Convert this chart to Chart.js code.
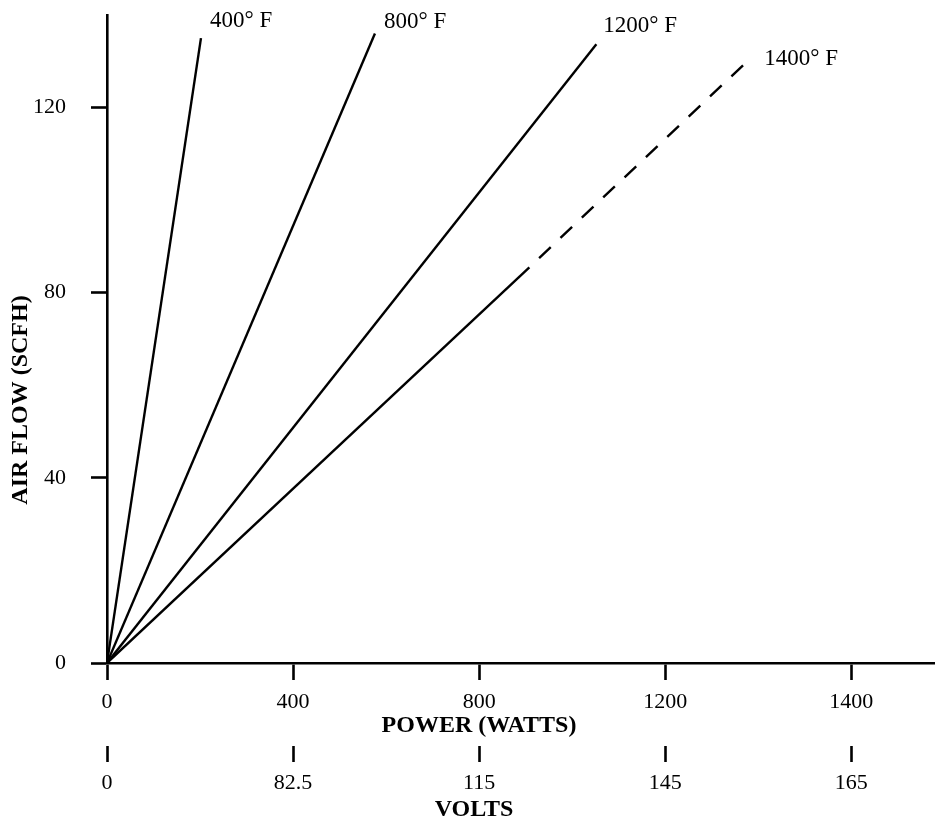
<!DOCTYPE html>
<html>
<head>
<meta charset="utf-8">
<script src="https://cdn.jsdelivr.net/npm/chart.js@4.4.1/dist/chart.umd.min.js"></script>
<style>
    body { margin: 0; background: #fff; }
    #wrap { width: 935px; height: 821px; }
</style>
</head>
<body>
<div id="wrap"><canvas id="flowChart" width="935" height="821"></canvas></div>
<script>
// Curves as [power, air flow] points
const series400 = [[0, 0], [202, 135]];
const series800 = [[0, 0], [576, 136]];
const series1200 = [[0, 0], [1052, 133.7]];
const series1400 = [[0, 0], [908, 85.5], [1368, 129.2]]; // last leg is dashed
const seriesNames = ['400° F', '800° F', '1200° F', '1400° F'];

// Tick labels (bottom scale is evenly spaced, last label reads 1400)
const yTicks = [0, 40, 80, 120];
const powerTickPos = [0, 400, 800, 1200, 1600];
const powerLabels = ['0', '400', '800', '1200', '1400'];
const voltLabels = ['0', '82.5', '115', '145', '165'];

const FONT = "'Liberation Serif', 'Times New Roman', serif";
Chart.defaults.color = '#000';
Chart.defaults.font.family = FONT;
Chart.defaults.font.size = 22;

const toPoints = arr => arr.map(p => ({ x: p[0], y: p[1] }));

function makeDataset(arr) {
    return {
        data: toPoints(arr),
        borderColor: '#000',
        borderWidth: 2.4,
        pointRadius: 0,
        fill: false,
        tension: 0
    };
}

const datasets = [series400, series800, series1200, series1400].map(makeDataset);
// dashed leg starts with a gap, like the original
datasets[3].segment = {
    borderDash: ctx => ctx.p0DataIndex === 1 ? [16, 13.4] : undefined,
    borderDashOffset: ctx => ctx.p0DataIndex === 1 ? 16 : undefined
};

// drop the label padding chart.js reserves at the axis ends
function noEndPadding(s) {
    s.paddingTop = 0;
    s.paddingBottom = 0;
    s.paddingLeft = 0;
    s.paddingRight = 0;
}

// Labels at the curve ends plus axis titles
const annotate = {
    id: 'annotate',
    afterDraw(chart) {
        const c = chart.ctx;
        const offsets = [[9, -17], [9, -12], [7, -18], [21, -6]];
        c.save();
        c.fillStyle = '#000';
        c.font = '23px ' + FONT;
        c.textAlign = 'left';
        c.textBaseline = 'middle';
        chart.data.datasets.forEach((ds, i) => {
            const pts = chart.getDatasetMeta(i).data;
            const end = pts[pts.length - 1];
            c.fillText(seriesNames[i], end.x + offsets[i][0], end.y + offsets[i][1]);
        });

        c.font = 'bold 24px ' + FONT;
        c.textAlign = 'center';
        c.fillText('POWER (WATTS)', 479, 726);
        c.fillText('VOLTS', 474, 810);

        c.translate(21, 400);
        c.rotate(-Math.PI / 2);
        c.fillText('AIR FLOW (SCFH)', 0, 0);
        c.restore();
    }
};

const ctx = document.getElementById('flowChart').getContext('2d');
const flowChart = new Chart(ctx, {
    type: 'line',
    data: { datasets: datasets },
    options: {
        responsive: false,
        animation: false,
        devicePixelRatio: 1,
        layout: { padding: { top: 15, right: 0, left: 0, bottom: 0 } },
        plugins: {
            legend: { display: false },
            tooltip: { enabled: false }
        },
        scales: {
            x: {
                type: 'linear',
                position: 'bottom',
                weight: 1,
                min: 0,
                max: 1780,
                afterBuildTicks: s => { s.ticks = powerTickPos.map(v => ({ value: v })); },
                afterFit: s => { s.height = 83; noEndPadding(s); },
                border: { display: true, color: '#000', width: 2.6 },
                grid: { drawOnChartArea: false, drawTicks: true, tickLength: 17, tickWidth: 2.6, tickColor: '#000' },
                ticks: {
                    padding: 9,
                    maxRotation: 0,
                    autoSkip: false,
                    callback: (v, i) => powerLabels[i]
                }
            },
            volts: {
                type: 'linear',
                position: 'bottom',
                weight: 2,
                min: 0,
                max: 1780,
                afterBuildTicks: s => { s.ticks = powerTickPos.map(v => ({ value: v })); },
                afterFit: s => { s.height = 75; noEndPadding(s); },
                border: { display: false },
                grid: { drawOnChartArea: false, drawTicks: true, tickLength: 16, tickWidth: 2.6, tickColor: '#000' },
                ticks: {
                    padding: 8,
                    maxRotation: 0,
                    autoSkip: false,
                    callback: (v, i) => voltLabels[i]
                }
            },
            y: {
                type: 'linear',
                position: 'left',
                min: 0,
                max: 140,
                afterBuildTicks: s => { s.ticks = yTicks.map(v => ({ value: v })); },
                afterFit: s => { s.width = 107; noEndPadding(s); },
                border: { display: true, color: '#000', width: 2.6 },
                grid: { drawOnChartArea: false, drawTicks: true, tickLength: 16, tickWidth: 2.6, tickColor: '#000' },
                ticks: {
                    padding: 25,
                    autoSkip: false,
                    callback: v => String(v)
                }
            }
        }
    },
    plugins: [annotate]
});
</script>
</body>
</html>
